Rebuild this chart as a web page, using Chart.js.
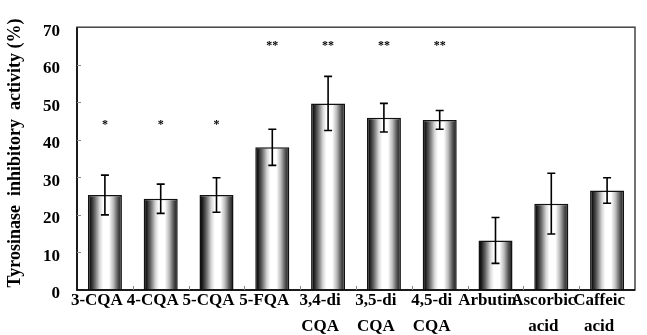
<!DOCTYPE html>
<html>
<head>
<meta charset="utf-8">
<script src="https://cdn.jsdelivr.net/npm/chart.js@4.4.1/dist/chart.umd.min.js"></script>
<style>
  html, body { margin: 0; padding: 0; background: #fff; }
  #wrap { width: 647px; height: 335px; }
</style>
</head>
<body>
<div id="wrap"><canvas id="c" width="647" height="335"></canvas></div>
<script>
// ---- data ----
const categories = [
  ["3-CQA"], ["4-CQA"], ["5-CQA"], ["5-FQA"],
  ["3,4-di", "CQA"], ["3,5-di", "CQA"], ["4,5-di", "CQA"],
  ["Arbutin"], ["Ascorbic", "acid"], ["Caffeic", "acid"]
];
const inhibition = [25.3, 24.3, 25.3, 38.0, 49.7, 45.9, 45.3, 13.2, 23.0, 26.5];
const errors     = [5.3, 3.9, 4.6, 4.8, 7.2, 3.8, 2.5, 6.1, 8.1, 3.4];
const significance = ["*", "*", "*", "**", "**", "**", "**", "", "", ""];
const yTicks = [0, 10, 20, 30, 40, 50, 60, 70];
const yTitle = "Tyrosinase  inhibitory  activity (%)";

const FONT = '"Liberation Serif", "Times New Roman", serif';
const BAR_PCT = 0.61;

function barGradient(ctx) {
  const chart = ctx.chart;
  const xs = chart.scales && chart.scales.x;
  if (!xs || ctx.dataIndex === undefined) return '#999';
  const cx = xs.getPixelForValue(ctx.dataIndex);
  const w = xs.width / categories.length * BAR_PCT;
  if (!isFinite(cx) || !isFinite(w) || w <= 0) return '#999';
  const g = chart.ctx.createLinearGradient(cx - w / 2, 0, cx + w / 2, 0);
  g.addColorStop(0.00, '#000');
  g.addColorStop(0.08, '#1a1a1a');
  g.addColorStop(0.20, '#666');
  g.addColorStop(0.35, '#d8d8d8');
  g.addColorStop(0.45, '#fff');
  g.addColorStop(0.62, '#fff');
  g.addColorStop(0.75, '#bbb');
  g.addColorStop(0.88, '#555');
  g.addColorStop(1.00, '#111');
  return g;
}

const decorations = {
  id: 'decorations',
  afterDatasetsDraw(chart) {
    const {ctx, scales: {x, y}} = chart;
    const meta = chart.getDatasetMeta(0);
    ctx.save();
    // error bars
    ctx.strokeStyle = '#000';
    ctx.lineWidth = 1.6;
    meta.data.forEach((bar, i) => {
      const v = inhibition[i], e = errors[i];
      const yt = y.getPixelForValue(v + e), yb = y.getPixelForValue(v - e);
      const cx = bar.x;
      ctx.beginPath();
      ctx.moveTo(cx, yt); ctx.lineTo(cx, yb);
      ctx.moveTo(cx - 4, yt); ctx.lineTo(cx + 4, yt);
      ctx.moveTo(cx - 4, yb); ctx.lineTo(cx + 4, yb);
      ctx.stroke();
    });
    // significance marks
    ctx.fillStyle = '#000';
    ctx.font = 'bold 12px ' + FONT;
    ctx.textAlign = 'center';
    ctx.textBaseline = 'middle';
    meta.data.forEach((bar, i) => {
      const s = significance[i];
      if (!s) return;
      const level = s.length === 1 ? 42.4 : 63.4;
      ctx.fillText(s, bar.x, y.getPixelForValue(level) - 6);
    });
    ctx.restore();
  },
  afterDraw(chart) {
    const {ctx, chartArea: a, scales: {x, y}} = chart;
    ctx.save();
    // frame
    ctx.strokeStyle = '#444';
    ctx.lineWidth = 1.5;
    ctx.strokeRect(a.left, a.top, a.right - a.left, a.bottom - a.top);
    ctx.strokeStyle = '#000';
    ctx.beginPath();
    ctx.moveTo(a.left, a.top); ctx.lineTo(a.left, a.bottom); ctx.lineTo(a.right, a.bottom);
    ctx.stroke();
    // inner tick marks
    ctx.strokeStyle = '#888';
    ctx.lineWidth = 1;
    yTicks.forEach(t => {
      if (t === 0 || t === 70) return;
      const py = Math.round(y.getPixelForValue(t)) + 0.5;
      ctx.beginPath(); ctx.moveTo(a.left, py); ctx.lineTo(a.left + 4, py); ctx.stroke();
    });
    for (let i = 1; i < categories.length; i++) {
      const px = Math.round((x.getPixelForValue(i - 1) + x.getPixelForValue(i)) / 2) + 0.5;
      ctx.beginPath(); ctx.moveTo(px, a.bottom); ctx.lineTo(px, a.bottom - 4); ctx.stroke();
    }
    // y title
    ctx.fillStyle = '#000';
    ctx.font = 'bold 18px ' + FONT;
    ctx.textAlign = 'center';
    ctx.textBaseline = 'middle';
    ctx.translate(15, 153);
    ctx.rotate(-Math.PI / 2);
    ctx.fillText(yTitle, 0, 0);
    ctx.restore();
  }
};

new Chart(document.getElementById('c'), {
  type: 'bar',
  data: {
    labels: categories,
    datasets: [{
      data: inhibition,
      backgroundColor: barGradient,
      borderColor: '#111',
      borderWidth: 1.5,
      borderSkipped: 'bottom',
      barPercentage: BAR_PCT,
      categoryPercentage: 1.0
    }]
  },
  options: {
    responsive: false,
    animation: false,
    devicePixelRatio: 1,
    layout: { padding: { top: 16, right: 12, left: 0, bottom: -3 } },
    plugins: { legend: { display: false }, tooltip: { enabled: false } },
    scales: {
      x: {
        grid: { display: false, drawTicks: false },
        border: { display: false },
        ticks: {
          color: '#000',
          padding: -2,
          labelOffset: -8,
          maxRotation: 0,
          autoSkip: false,
          font: { family: FONT, size: 17, weight: 'bold', lineHeight: '26px' }
        }
      },
      y: {
        min: 0, max: 70,
        afterFit(scale) { scale.width = 77; },
        grid: { display: false, drawTicks: false },
        border: { display: false },
        ticks: {
          stepSize: 10,
          color: '#000',
          padding: 17,
          labelOffset: 4,
          font: { family: FONT, size: 17, weight: 'bold' }
        }
      }
    }
  },
  plugins: [decorations]
});
</script>
</body>
</html>
